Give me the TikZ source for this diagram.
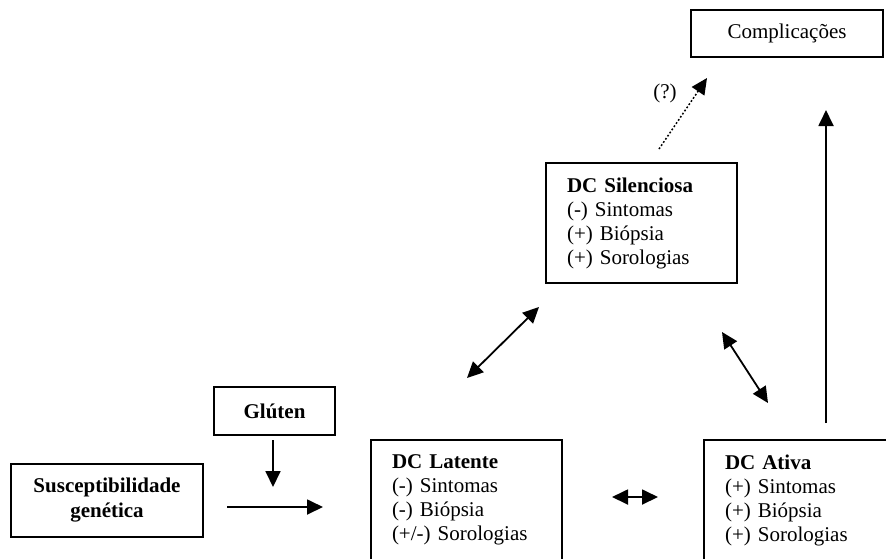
\documentclass[tikz,border=0pt]{standalone}
\usepackage{fontspec}
\setmainfont{Liberation Serif}
\usetikzlibrary{arrows.meta}
\begin{document}
\begin{tikzpicture}[x=1pt,y=-1pt,
  box/.style={draw, line width=2pt, inner sep=0pt, font=\fontsize{21}{24}\selectfont},
  info/.style={box, minimum width=191pt, minimum height=120pt, align=left, text width=149pt},
  tip/.tip={Triangle[length=16pt,width=15pt]},
  arr/.style={line width=1.8pt, -tip},
  darr/.style={line width=1.8pt, tip-tip},
]
\useasboundingbox (0,0) rectangle (886,558);
\clip (0,0) rectangle (886,558);

\node[box, minimum width=192pt, minimum height=47pt] (comp) at (787,33.5) {Complica\c{c}\~oes};
\node[info] (sil) at (641.5,223) {\textbf{DC Silenciosa}\\(-) Sintomas\\(+) Bi\'opsia\\(+) Sorologias};
\node[info] (lat) at (466.5,500) {\textbf{DC Latente}\\(-) Sintomas\\(-) Bi\'opsia\\(+/-) Sorologias};
\node[info] (ati) at (799.5,500) {\textbf{DC Ativa}\\(+) Sintomas\\(+) Bi\'opsia\\(+) Sorologias};
\node[box, minimum width=121pt, minimum height=48pt, font=\fontsize{21}{24}\selectfont\bfseries] (glu) at (274.5,411) {Gl\'uten};
\node[box, minimum width=192pt, minimum height=73pt, align=center, font=\fontsize{21}{25}\selectfont\bfseries] (sus) at (107,500.5) {Susceptibilidade\\gen\'etica};
\node[font=\fontsize{21}{24}\selectfont, inner sep=0pt] (q) at (665,93) {(?)};

\coordinate (g1) at (273,440);
\coordinate (g2) at (273,487);
\coordinate (s1) at (227,507);
\coordinate (s2) at (323,507);
\coordinate (ls1) at (467,378);
\coordinate (ls2) at (539,307);
\coordinate (sa1) at (722,332);
\coordinate (sa2) at (768,403);
\coordinate (la1) at (612,497);
\coordinate (la2) at (658,497);
\coordinate (ac1) at (826,423);
\coordinate (ac2) at (826,110);
\coordinate (sc1) at (659,149);
\coordinate (sc2) at (707,78);

\draw[arr] (g1) -- (g2);
\draw[arr] (s1) -- (s2);
\draw[darr] (ls1) -- (ls2);
\draw[darr] (sa1) -- (sa2);
\draw[darr] (la1) -- (la2);
\draw[arr] (ac1) -- (ac2);
\draw[arr, dotted, line width=1.5pt] (sc1) -- (sc2);
\end{tikzpicture}
\end{document}
